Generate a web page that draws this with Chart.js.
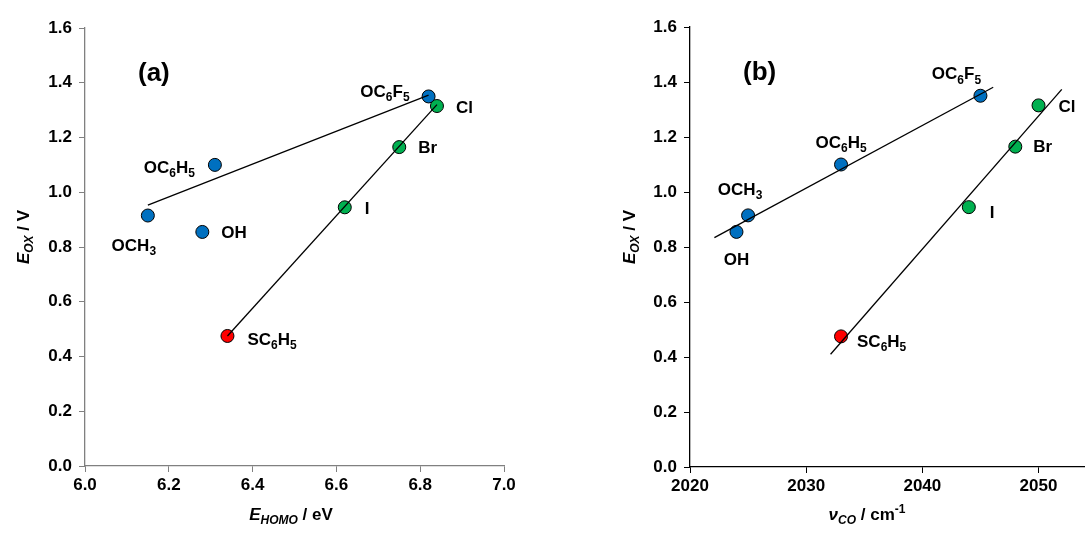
<!DOCTYPE html>
<html>
<head>
<meta charset="utf-8">
<script src="https://cdn.jsdelivr.net/npm/chart.js@4/dist/chart.umd.min.js"></script>
<style>
  body { margin: 0; background: #fff; }
  #wrap { position: relative; width: 1085px; height: 533px; }
  canvas { position: absolute; top: 0; }
</style>
</head>
<body>
<div id="wrap">
  <canvas id="chartA" width="545" height="533" style="left:0"></canvas>
  <canvas id="chartB" width="540" height="533" style="left:545px"></canvas>
</div>
<script>
// substituents, "_" marks the next character as subscript
const subst = ['OCH_3', 'OH', 'OC_6H_5', 'OC_6F_5', 'Cl', 'Br', 'I', 'SC_6H_5'];
const group = ['O', 'O', 'O', 'O', 'X', 'X', 'X', 'S'];
const eHomo = [6.15, 6.28, 6.31, 6.82, 6.84, 6.75, 6.62, 6.34];
const eOx = [0.915, 0.855, 1.10, 1.35, 1.315, 1.165, 0.945, 0.475];
const vCO = [2025, 2024, 2033, 2045, 2050, 2048, 2044, 2033];

// fitted lines (end points)
const fitA1x = [6.15, 6.82], fitA1y = [0.953, 1.355];
const fitA2x = [6.34, 6.84], fitA2y = [0.475, 1.32];
const fitB1x = [2022.1, 2046.1], fitB1y = [0.834, 1.381];
const fitB2x = [2032.1, 2052.0], fitB2y = [0.41, 1.373];

const yTicks = [0, 0.2, 0.4, 0.6, 0.8, 1.0, 1.2, 1.4, 1.6];

const groupColor = { O: '#0070C0', X: '#00B050', S: '#FF0000' };
const FONT = '"Liberation Sans", Arial, sans-serif';

// label placement relative to the marker (pixels)
const placeA = [
  { dx: -14, dy: 31, al: 'center' }, { dx: 19, dy: 1, al: 'left' },
  { dx: -20, dy: 3, al: 'right' }, { dx: -19, dy: -4, al: 'right' },
  { dx: 19, dy: 2, al: 'left' }, { dx: 19, dy: 1, al: 'left' },
  { dx: 20, dy: 2, al: 'left' }, { dx: 20, dy: 4, al: 'left' }
];
const placeB = [
  { dx: -8, dy: -25, al: 'center' }, { dx: 0, dy: 28, al: 'center' },
  { dx: 0, dy: -21, al: 'center' }, { dx: -24, dy: -21, al: 'center' },
  { dx: 20, dy: 2, al: 'left' }, { dx: 18, dy: 1, al: 'left' },
  { dx: 21, dy: 6, al: 'left' }, { dx: 16, dy: 6, al: 'left' }
];

function parseLabel(s) {
  const segs = [];
  for (let i = 0; i < s.length; i++) {
    if (s[i] === '_') { segs.push({ t: s[i + 1], sub: true }); i++; }
    else if (segs.length && !segs[segs.length - 1].sub) segs[segs.length - 1].t += s[i];
    else segs.push({ t: s[i] });
  }
  return segs;
}

function segFont(s, size) {
  const sz = (s.sub || s.sup) ? Math.round(size * 0.72) : size;
  return (s.it ? 'italic ' : '') + 'bold ' + sz + 'px ' + FONT;
}

function drawRich(ctx, segs, x, y, align, size) {
  let total = 0;
  segs.forEach(s => { ctx.font = segFont(s, size); s.w = ctx.measureText(s.t).width; total += s.w; });
  let cx = align === 'left' ? x : align === 'right' ? x - total : x - total / 2;
  ctx.textAlign = 'left';
  ctx.textBaseline = 'middle';
  ctx.fillStyle = '#000';
  segs.forEach(s => {
    ctx.font = segFont(s, size);
    const off = s.sub ? size * 0.33 : s.sup ? -size * 0.33 : 0;
    ctx.fillText(s.t, cx, y + off);
    cx += s.w;
  });
}

function overlay(cfg) {
  return {
    id: 'overlay',
    afterDraw(chart) {
      const ctx = chart.ctx;
      const meta = chart.getDatasetMeta(2);
      ctx.save();
      meta.data.forEach((pt, i) => {
        const p = cfg.place[i];
        drawRich(ctx, parseLabel(subst[i]), pt.x + p.dx, pt.y + p.dy, p.al, 17);
      });
      const a = chart.chartArea;
      ctx.font = 'bold 26px ' + FONT;
      ctx.textAlign = 'left';
      ctx.textBaseline = 'middle';
      ctx.fillText(cfg.letter, a.left + 53, a.top + 46);
      drawRich(ctx, cfg.xTitle, cfg.xTitlePos[0], cfg.xTitlePos[1], 'center', 17);
      ctx.translate(cfg.yTitlePos[0], cfg.yTitlePos[1]);
      ctx.rotate(-Math.PI / 2);
      drawRich(ctx, cfg.yTitle, 0, 0, 'center', 17);
      ctx.restore();
    }
  };
}

function pts(xs, ys) { return xs.map((x, i) => ({ x: x, y: ys[i] })); }

function makeChart(id, xs, fit1x, fit1y, fit2x, fit2y, xOpts, axisColor, yWidth, top, cfg) {
  const tickFont = { family: FONT, size: 17, weight: 'bold' };
  new Chart(document.getElementById(id), {
    type: 'scatter',
    data: {
      datasets: [
        { data: pts(fit1x, fit1y), showLine: true, borderColor: '#000', borderWidth: 1.3, pointRadius: 0 },
        { data: pts(fit2x, fit2y), showLine: true, borderColor: '#000', borderWidth: 1.3, pointRadius: 0 },
        {
          data: pts(xs, eOx),
          pointRadius: 6.5,
          pointBorderWidth: 1,
          pointBorderColor: '#000',
          pointBackgroundColor: group.map(g => groupColor[g])
        }
      ]
    },
    options: {
      responsive: false,
      animation: false,
      devicePixelRatio: 1,
      layout: { autoPadding: false, padding: { top: top, right: cfg.padRight, left: 0, bottom: 0 } },
      plugins: { legend: { display: false }, tooltip: { enabled: false } },
      scales: {
        x: Object.assign({
          type: 'linear',
          border: { color: axisColor, width: 1.3 },
          grid: { drawOnChartArea: false, color: axisColor, tickLength: 6 },
          afterFit: s => { s.height = 533 - top - cfg.plotH; }
        }, xOpts),
        y: {
          min: 0, max: 1.6,
          afterBuildTicks: s => { s.ticks = yTicks.map(v => ({ value: v })); },
          border: { color: axisColor, width: 1.3 },
          grid: { drawOnChartArea: false, color: axisColor, tickLength: 6 },
          ticks: { color: '#000', font: tickFont, padding: 7, callback: v => v.toFixed(1) },
          afterFit: s => { s.width = yWidth; }
        }
      }
    },
    plugins: [overlay(cfg)]
  });
}

const xTickFont = { family: FONT, size: 17, weight: 'bold' };

makeChart('chartA', eHomo, fitA1x, fitA1y, fitA2x, fitA2y,
  { min: 6, max: 7, ticks: { color: '#000', font: xTickFont, padding: 3, stepSize: 0.2, callback: v => v.toFixed(1) } },
  '#808080', 85, 28, {
    place: placeA, letter: '(a)', padRight: 41, plotH: 438,
    xTitle: [{ t: 'E', it: true }, { t: 'HOMO', it: true, sub: true }, { t: ' / eV' }],
    xTitlePos: [291, 515],
    yTitle: [{ t: 'E', it: true }, { t: 'OX', it: true, sub: true }, { t: ' / V' }],
    yTitlePos: [24, 237]
  });

makeChart('chartB', vCO, fitB1x, fitB1y, fitB2x, fitB2y,
  { min: 2020, max: 2054, ticks: { color: '#000', font: xTickFont, padding: 3, stepSize: 10, includeBounds: false, callback: v => String(v) } },
  '#000', 145, 27, {
    place: placeB, letter: '(b)', padRight: 0, plotH: 440,
    xTitle: [{ t: 'ν', it: true }, { t: 'CO', it: true, sub: true }, { t: ' / cm' }, { t: '-1', sup: true }],
    xTitlePos: [322, 515],
    yTitle: [{ t: 'E', it: true }, { t: 'OX', it: true, sub: true }, { t: ' / V' }],
    yTitlePos: [85, 237]
  });
</script>
</body>
</html>
